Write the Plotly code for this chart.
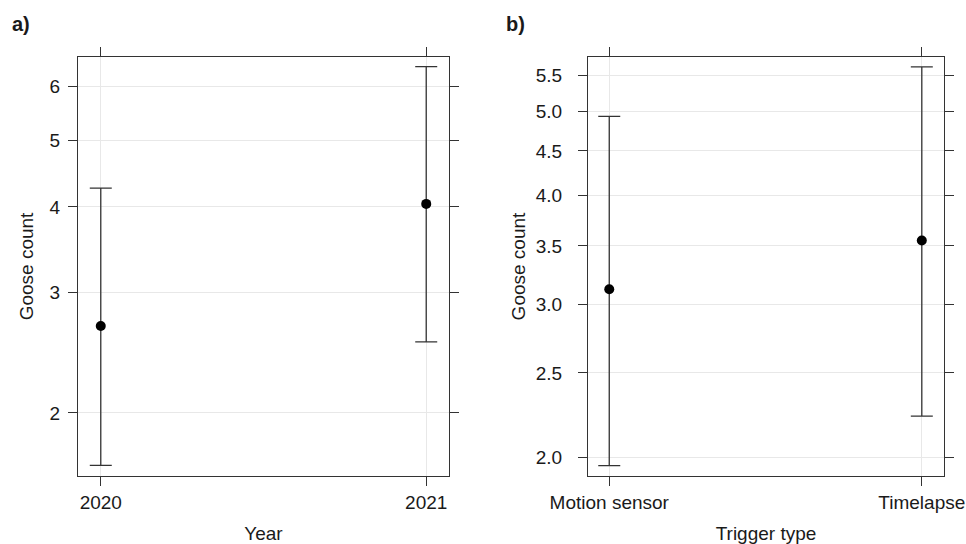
import plotly.graph_objects as go

# Panel a: Year effect
years = ["2020", "2021"]
year_fit = [2.68, 4.04]
year_upper = [4.26, 6.41]
year_lower = [1.677, 2.54]
year_ticks = [2, 3, 4, 5, 6]

# Panel b: Trigger type effect
triggers = ["Motion sensor", "Timelapse"]
trig_fit = [3.12, 3.55]
trig_upper = [4.93, 5.62]
trig_lower = [1.956, 2.23]
trig_ticks = [2.0, 2.5, 3.0, 3.5, 4.0, 4.5, 5.0, 5.5]

FONT = "Liberation Sans, Arial, sans-serif"
AXC = "#333333"
TXT = "#1a1a1a"
W, H = 966, 544

fig = go.Figure()

def add_panel(cats, fit, up, lo, xa, ya):
    fig.add_trace(go.Scatter(
        x=cats, y=fit, mode="markers",
        marker=dict(color="black", size=10),
        error_y=dict(type="data", symmetric=False,
                     array=[u - f for u, f in zip(up, fit)],
                     arrayminus=[f - l for f, l in zip(fit, lo)],
                     color=AXC, thickness=1.3, width=11),
        xaxis=xa, yaxis=ya, showlegend=False,
    ))

add_panel(years, year_fit, year_upper, year_lower, "x", "y")
add_panel(triggers, trig_fit, trig_upper, trig_lower, "x2", "y2")

common_x = dict(
    type="category", showline=True, linecolor=AXC, linewidth=1.3, mirror="ticks",
    ticks="outside", ticklen=9, tickwidth=1.3, tickcolor=AXC,
    showgrid=True, gridcolor="#e8e8e8", gridwidth=1, zeroline=False,
    tickfont=dict(family=FONT, size=19, color=TXT),
    title_font=dict(family=FONT, size=19, color=TXT), title_standoff=27,
    range=[-0.07, 1.07], automargin=False,
)
common_y = dict(
    type="log", showline=True, linecolor=AXC, linewidth=1.3, mirror="ticks",
    ticks="outside", ticklen=9, tickwidth=1.3, tickcolor=AXC,
    showgrid=True, gridcolor="#e8e8e8", gridwidth=1, zeroline=False,
    tickfont=dict(family=FONT, size=19, color=TXT),
    title_font=dict(family=FONT, size=19, color=TXT), automargin=False,
)

fig.update_layout(
    width=W, height=H,
    margin=dict(l=0, r=0, t=0, b=0),
    paper_bgcolor="white", plot_bgcolor="white",
    xaxis=dict(common_x, domain=[78 / W, 449 / W], anchor="y",
               title_text="Year"),
    yaxis=dict(common_y, domain=[1 - 476 / H, 1 - 57 / H], anchor="x",
               range=[0.209, 0.8209], tickvals=year_ticks,
               ticktext=[str(v) for v in year_ticks], ticklabelstandoff=4,
               title_text="Goose count", title_standoff=10),
    xaxis2=dict(common_x, domain=[588 / W, 944 / W], anchor="y2",
                title_text="Trigger type", range=[-0.068, 1.071]),
    yaxis2=dict(common_y, domain=[1 - 476 / H, 1 - 57 / H], anchor="x2",
                range=[0.2795, 0.7612], tickvals=trig_ticks,
                ticktext=[f"{v:.1f}" for v in trig_ticks], ticklabelstandoff=12,
                title_text="Goose count", title_standoff=4),
    annotations=[
        dict(text="<b>a)</b>", x=10 / W, y=1 - 24 / H, xref="paper", yref="paper",
             xanchor="left", yanchor="middle", showarrow=False,
             font=dict(family=FONT, size=20, color=TXT)),
        dict(text="<b>b)</b>", x=504 / W, y=1 - 24 / H, xref="paper", yref="paper",
             xanchor="left", yanchor="middle", showarrow=False,
             font=dict(family=FONT, size=20, color=TXT)),
    ],
)

fig.write_html("out.html",
               config={"displayModeBar": False},
               post_script="document.body.style.margin='0';document.body.style.overflow='hidden';")
